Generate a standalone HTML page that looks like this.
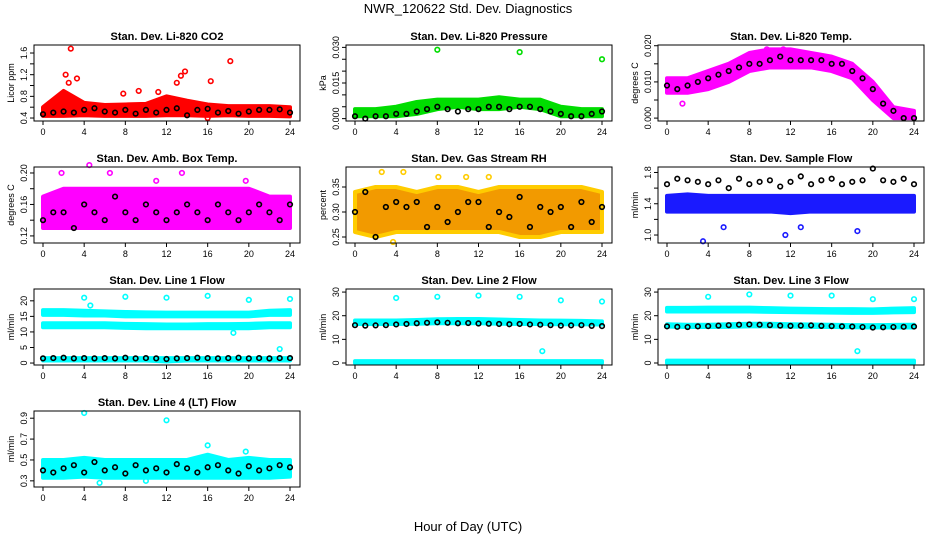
<!DOCTYPE html>
<html><head><meta charset="utf-8"><style>
body{margin:0;background:#fff;}
svg{display:block;font-family:"Liberation Sans",sans-serif;}
</style></head><body>
<svg id="chart" width="936" height="540" viewBox="0 0 936 540">
<text x="468" y="13" font-size="13" text-anchor="middle">NWR_120622  Std. Dev. Diagnostics</text>
<text x="468" y="531" font-size="13" text-anchor="middle">Hour of Day (UTC)</text>
</svg>
<script>
const hours2=[0,2,4,6,8,10,12,14,16,18,20,22,24];
const hours1=[0,1,2,3,4,5,6,7,8,9,10,11,12,13,14,15,16,17,18,19,20,21,22,23,24];
const xTicks=[0,4,8,12,16,20,24];
// P1 CO2
const co2Lo=[.44,.44,.45,.44,.44,.44,.45,.45,.44,.45,.44,.44,.43];
const co2Hi=[.6,.9,.68,.64,.65,.66,.8,.72,.65,.62,.62,.62,.6];
const co2OutT=[2.7,3.3,2.2,2.5,13.8,13.4,13,18.2,16.3,9.3,11.2,7.8,16];
const co2OutV=[1.68,1.13,1.2,1.05,1.26,1.18,1.05,1.45,1.08,0.9,0.88,0.85,0.4];
const co2Black=[.47,.5,.52,.5,.55,.58,.52,.5,.55,.48,.55,.5,.55,.58,.45,.55,.57,.5,.53,.48,.52,.55,.55,.56,.5];
// P2 pressure
const prLo=[.001,.001,.001,.002,.004,.005,.004,.004,.005,.004,.001,.001,.001];
const prHi=[.004,.004,.005,.007,.008,.008,.008,.009,.008,.008,.005,.004,.004];
const prOutT=[8,16,24];
const prOutV=[.029,.028,.025];
const prBlack=[.001,0,.001,.001,.002,.002,.003,.004,.005,.004,.003,.004,.004,.005,.005,.004,.005,.005,.004,.003,.002,.001,.001,.002,.003];
// P3 temp
const tpLo=[.007,.007,.008,.010,.013,.014,.014,.014,.013,.011,.005,0,0];
const tpHi=[.011,.011,.013,.015,.018,.019,.019,.018,.017,.015,.010,.003,.002];
const tpOutT=[1.5,9.7,11.3];
const tpOutV=[.004,.019,.019];
const tpBlack=[.009,.008,.009,.01,.011,.012,.013,.014,.015,.015,.016,.017,.016,.016,.016,.016,.015,.015,.013,.011,.008,.004,.002,0,0];
// P4 ambient box temp
const abLo=[.13,.13,.13,.13,.13,.13,.13,.13,.13,.13,.13,.13,.13];
const abHi=[.17,.18,.18,.18,.18,.18,.18,.18,.18,.18,.18,.17,.17];
const abOutT=[1.8,4.5,6.5,11,13.5,19.7];
const abOutV=[.2,.21,.2,.19,.2,.19];
const abBlack=[.14,.15,.15,.13,.16,.15,.14,.17,.15,.14,.16,.15,.14,.15,.16,.15,.14,.16,.15,.14,.15,.16,.15,.14,.16];
// P5 gas stream RH
const rhLo=[.26,.25,.26,.26,.26,.26,.26,.26,.25,.25,.26,.26,.26];
const rhHi=[.34,.35,.35,.34,.35,.35,.34,.35,.35,.35,.35,.35,.34];
const rhOutT=[2.6,4.7,10.8,13,8.1,3.7];
const rhOutV=[.38,.38,.37,.37,.37,.24];
const rhBlack=[.3,.34,.25,.31,.32,.31,.32,.27,.31,.28,.3,.32,.32,.27,.3,.29,.33,.27,.31,.3,.31,.27,.32,.28,.31];
// P6 sample flow
const sfLo=[1.3,1.3,1.3,1.3,1.3,1.3,1.28,1.3,1.3,1.3,1.3,1.3,1.3];
const sfHi=[1.5,1.52,1.5,1.5,1.5,1.5,1.5,1.5,1.5,1.5,1.5,1.5,1.5];
const sfOutT=[3.5,5.5,11.5,13,18.5];
const sfOutV=[.92,1.1,1.0,1.1,1.05];
const sfBlack=[1.65,1.72,1.7,1.68,1.65,1.7,1.6,1.72,1.65,1.68,1.7,1.62,1.68,1.75,1.65,1.7,1.72,1.65,1.68,1.7,1.85,1.7,1.68,1.72,1.65];
// P7 line 1 flow
const l1aLo=[15.5,15.5,15.3,15.3,15,15,15,15,15,15,15,15.5,15.5];
const l1aHi=[17,17,16.8,16.6,16.4,16.3,16.2,16.2,16.2,16.2,16.2,16.8,17];
const l1bLo=[11.5,11.5,11.5,11.5,11.3,11.2,11.2,11.2,11.2,11.2,11.2,11.5,11.5];
const l1bHi=[12.8,12.8,12.8,12.8,12.6,12.5,12.4,12.4,12.5,12.5,12.6,12.8,12.8];
const l1cLo=[.8,.8,.8,.8,.8,.8,.5,.8,.8,.8,.8,.8,.8];
const l1cHi=[1.6,1.6,1.6,1.6,1.6,1.6,1.6,1.6,1.6,1.6,1.6,1.6,1.6];
const l1OutT=[4,8,12,16,20,24,4.6,23,18.5];
const l1OutV=[21,21.3,21,21.6,20.3,20.6,18.5,4.5,9.7];
const l1Black=[1.5,1.6,1.7,1.5,1.6,1.5,1.6,1.5,1.7,1.5,1.6,1.5,1.3,1.5,1.6,1.7,1.6,1.5,1.6,1.7,1.5,1.6,1.5,1.6,1.6];
// P8 line 2 flow
const l2aLo=[16.5,16.5,16.5,16.6,16.8,16.8,16.8,16.6,16.5,16.5,16.4,16.4,16.3];
const l2aHi=[18,18,18,18.2,18.5,18.6,18.6,18.4,18.2,18,17.9,17.8,17.6];
const l2bLo=[0,0,0,0,0,0,0,0,0,0,0,0,0];
const l2bHi=[.8,.8,.8,.8,.8,.8,.8,.8,.8,.8,.8,.8,.8];
const l2OutT=[4,8,12,16,20,24,18.2];
const l2OutV=[27.5,28,28.5,28,26.5,26,5];
const l2Black=[16,15.8,15.9,16,16.3,16.5,16.8,17,17.2,17,16.8,16.9,16.7,16.6,16.5,16.4,16.5,16.3,16.2,16,15.8,15.9,16,15.7,15.6];
// P9 line 3 flow
const l3aLo=[21.8,21.8,21.8,21.8,21.8,21.6,21.5,21.4,21.3,21.2,21.2,21.4,21.5];
const l3aHi=[23.3,23.3,23.4,23.4,23.4,23.2,23,22.9,22.8,22.8,22.7,23,23.2];
const l3bLo=[15.4,15.2,15.2,15.3,15.5,15.5,15.4,15.3,15.2,15.1,15,15,15];
const l3bHi=[16.4,16.2,16.2,16.4,16.6,16.6,16.4,16.3,16.2,16,16,16.1,16.2];
const l3cLo=[0,0,0,0,0,0,0,0,0,0,0,0,0];
const l3cHi=[1,1,1,1,1,1,1,1,1,1,1,1,1];
const l3OutT=[4,8,12,16,20,24,18.5];
const l3OutV=[28,29,28.5,28.5,27,27,5];
const l3Black=[15.5,15.3,15.2,15.5,15.6,15.8,16,16.2,16.3,16.2,16,15.8,15.7,15.8,15.9,15.7,15.6,15.5,15.4,15.2,15,15.1,15.2,15.3,15.4];
// P10 line 4 flow
const l4Lo=[.33,.33,.34,.33,.33,.33,.33,.33,.33,.33,.33,.33,.34];
const l4Hi=[.5,.5,.52,.5,.5,.5,.5,.5,.55,.5,.52,.5,.5];
const l4OutT=[4,12,16,19.7,5.5,10];
const l4OutV=[.95,.88,.64,.58,.28,.3];
const l4Black=[.4,.38,.42,.45,.38,.48,.4,.43,.37,.45,.4,.42,.38,.46,.42,.38,.43,.45,.4,.37,.44,.4,.42,.45,.43];

const NS='http://www.w3.org/2000/svg';
const svg=document.getElementById('chart');
function el(tag,attrs,parent){const e=document.createElementNS(NS,tag);for(const k in attrs)e.setAttribute(k,attrs[k]);(parent||svg).appendChild(e);return e;}

function panel(slug,title,ytitle,col,row,ymin,ymax,yTicks,yLabels,bands,outT,outV,outColor,black){
  const L=34+col*312, R=L+266, T=45+row*122, B=T+76;
  const g=el('g',{});
  
  
  const xs=h=>L+9+h*(247/24);
  const ys=v=>B-(v-ymin)/(ymax-ymin)*(B-T);
  const t=el('text',{x:(L+R)/2,y:T-5,'font-size':11,'font-weight':'bold','text-anchor':'middle'},g);
  t.textContent=title;
  
  
  // bands
  bands.forEach((b,bi)=>{
    let pts=hours2.map((h,i)=>xs(h)+','+ys(b.hi[i]));
    pts=pts.concat(hours2.slice().reverse().map((h,i)=>xs(h)+','+ys(b.lo[hours2.length-1-i])));
    const p=el('polygon',{points:pts.join(' '),fill:b.fill||b.color,stroke:b.color,'stroke-width':4,'stroke-linejoin':'round'},g);
    
    
  });
  outT.forEach((h,i)=>{
    const c=el('circle',{cx:xs(h),cy:ys(outV[i]),r:2.3,fill:'none',stroke:outColor,'stroke-width':1.6},g);
    
    
  });
  black.forEach((v,i)=>{
    const c=el('circle',{cx:xs(hours1[i]),cy:ys(v),r:2.3,fill:'none',stroke:'#000','stroke-width':1.6},g);
    
    
  });
  // axes
  const box=el('rect',{x:L,y:T,width:R-L,height:B-T,fill:'none',stroke:'#000','stroke-width':1},g);
  
  
  xTicks.forEach(h=>{
    el('line',{x1:xs(h),x2:xs(h),y1:B,y2:B+4,stroke:'#000'},g);
    const tx=el('text',{x:xs(h),y:B+14,'font-size':9,'text-anchor':'middle'},g);
    tx.textContent=h;
    
    
  });
  yTicks.forEach(v=>el('line',{x1:L-4,x2:L,y1:ys(v),y2:ys(v),stroke:'#000'},g));
  yLabels.forEach(v=>{
    const y=ys(v);
    const tx=el('text',{x:L-7,y:y,'font-size':9,'text-anchor':'middle',transform:'rotate(-90 '+(L-7)+' '+y+')'},g);
    tx.textContent=v;
    
    
  });
  const yt=el('text',{x:L-20,y:(T+B)/2,'font-size':9,'text-anchor':'middle',transform:'rotate(-90 '+(L-20)+' '+((T+B)/2)+')'},g);
  yt.textContent=ytitle;
  
  
}
const red='#ff0000',grn='#00dd00',mag='#ff00ff',cyan='#00ffff',blue='#1a1aff';
panel('co2','Stan. Dev. Li-820 CO2','Licor ppm',0,0,.345,1.748,[.4,.6,.8,1,1.2,1.4,1.6],['0.4','0.8','1.2','1.6'],[{lo:co2Lo,hi:co2Hi,color:red}],co2OutT,co2OutV,red,co2Black);
panel('pressure','Stan. Dev. Li-820 Pressure','kPa',1,0,-.001,.031,[0,.005,.01,.015,.02,.025,.03],['0.000','0.015','0.030'],[{lo:prLo,hi:prHi,color:grn}],prOutT,prOutV,grn,prBlack);
panel('temp','Stan. Dev. Li-820 Temp.','degrees C',2,0,-.0008,.0202,[0,.005,.01,.015,.02],['0.000','0.010','0.020'],[{lo:tpLo,hi:tpHi,color:mag}],tpOutT,tpOutV,mag,tpBlack);
panel('amb-box','Stan. Dev. Amb. Box Temp.','degrees C',0,1,.111,.2076,[.12,.14,.16,.18,.2],['0.12','0.16','0.20'],[{lo:abLo,hi:abHi,color:mag}],abOutT,abOutV,mag,abBlack);
panel('gas-rh','Stan. Dev. Gas Stream RH','percent',1,1,.238,.39,[.25,.3,.35],['0.25','0.30','0.35'],[{lo:rhLo,hi:rhHi,color:'#ffcc00',fill:'#f29a00'}],rhOutT,rhOutV,'#ffcc00',rhBlack);
panel('sample-flow','Stan. Dev. Sample Flow','ml/min',2,1,.898,1.87,[1,1.2,1.4,1.6,1.8],['1.0','1.4','1.8'],[{lo:sfLo,hi:sfHi,color:blue}],sfOutT,sfOutV,blue,sfBlack);
panel('line1','Stan. Dev. Line 1 Flow','ml/min',0,2,-.63,23.8,[0,5,10,15,20],['0','5','10','15','20'],[{lo:l1aLo,hi:l1aHi,color:cyan},{lo:l1bLo,hi:l1bHi,color:cyan},{lo:l1cLo,hi:l1cHi,color:cyan}],l1OutT,l1OutV,cyan,l1Black);
panel('line2','Stan. Dev. Line 2 Flow','ml/min',1,2,-.85,31.3,[0,10,20,30],['0','10','20','30'],[{lo:l2aLo,hi:l2aHi,color:cyan},{lo:l2bLo,hi:l2bHi,color:cyan}],l2OutT,l2OutV,cyan,l2Black);
panel('line3','Stan. Dev. Line 3 Flow','ml/min',2,2,-.85,31.3,[0,10,20,30],['0','10','20','30'],[{lo:l3aLo,hi:l3aHi,color:cyan},{lo:l3bLo,hi:l3bHi,color:cyan},{lo:l3cLo,hi:l3cHi,color:cyan}],l3OutT,l3OutV,cyan,l3Black);
panel('line4','Stan. Dev. Line 4 (LT) Flow','ml/min',0,3,.241,.969,[.3,.5,.7,.9],['0.3','0.5','0.7','0.9'],[{lo:l4Lo,hi:l4Hi,color:cyan}],l4OutT,l4OutV,cyan,l4Black);
</script>
</body></html>
